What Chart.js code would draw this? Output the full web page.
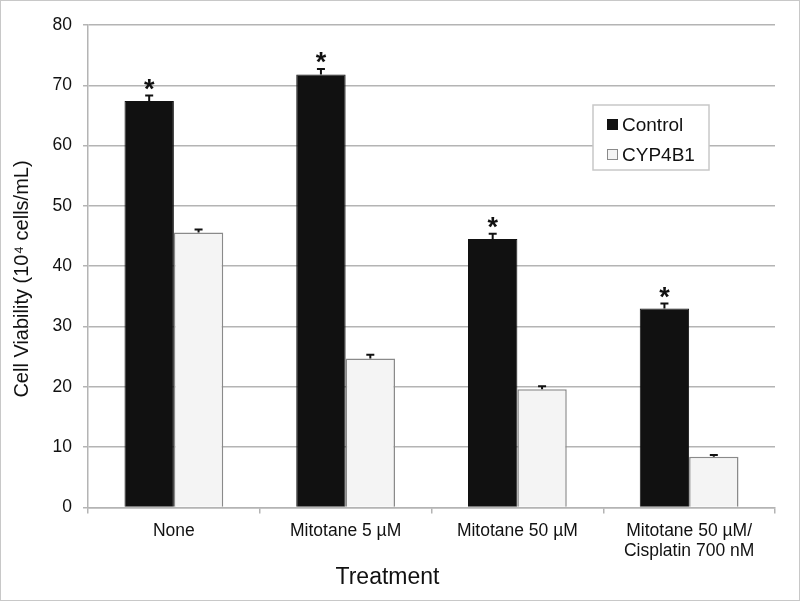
<!DOCTYPE html>
<html>
<head>
<meta charset="utf-8">
<script src="https://cdn.jsdelivr.net/npm/chart.js@4"></script>
<style>
  html, body { margin: 0; padding: 0; background: #fff; }
  #wrap { width: 800px; height: 601px; position: relative; }
  canvas { outline: 1px solid #c8c8c8; outline-offset: -1px; }
</style>
</head>
<body>
<div id="wrap"><canvas id="chart" width="800" height="601"></canvas></div>
<script>
var categories = ["None", "Mitotane 5 \u00b5M", "Mitotane 50 \u00b5M", ["Mitotane 50 \u00b5M/", "Cisplatin 700 nM"]];
var seriesNames = ["Control", "CYP4B1"];
var controlValues = [67.4, 71.8, 44.5, 33.0];
var controlErrors = [0.9, 0.9, 0.9, 0.8];
var cypValues = [45.6, 24.7, 19.6, 8.4];
var cypErrors = [0.5, 0.6, 0.5, 0.3];
var significant = [true, true, true, true];
var yTicks = [0, 10, 20, 30, 40, 50, 60, 70, 80];

var fontFamily = "'Liberation Sans', Arial, sans-serif";
var gridColor = "#b4b4b4";

// error bars + asterisks, placed with the chart's own scales
var errorBars = {
    id: 'errorBars',
    afterDatasetsDraw: function (chart) {
        var ctx = chart.ctx;
        var yScale = chart.scales.y;
        chart.data.datasets.forEach(function (ds, di) {
            var meta = chart.getDatasetMeta(di);
            meta.data.forEach(function (bar, i) {
                var top = yScale.getPixelForValue(ds.data[i] + ds.errors[i]);
                ctx.save();
                ctx.strokeStyle = "#111";
                ctx.lineWidth = 2;
                ctx.beginPath();
                ctx.moveTo(bar.x, bar.y);
                ctx.lineTo(bar.x, top);
                ctx.moveTo(bar.x - 4, top);
                ctx.lineTo(bar.x + 4, top);
                ctx.stroke();
                if (ds.stars && ds.stars[i]) {
                    ctx.fillStyle = "#111";
                    ctx.font = "bold 27px " + fontFamily;
                    ctx.textAlign = "center";
                    ctx.textBaseline = "alphabetic";
                    ctx.fillText("*", bar.x, top + 2);
                }
                ctx.restore();
            });
        });
    }
};

// boxed legend inside the plot + rotated y title
var boxLegend = {
    id: 'boxLegend',
    afterDraw: function (chart) {
        var ctx = chart.ctx;
        var x = 593, y = 105, w = 116, h = 65;
        ctx.save();
        ctx.fillStyle = "#fff";
        ctx.fillRect(x, y, w, h);
        ctx.strokeStyle = "#c8c8c8";
        ctx.lineWidth = 1.5;
        ctx.strokeRect(x, y, w, h);
        ctx.font = "19px " + fontFamily;
        ctx.textBaseline = "middle";
        ctx.textAlign = "left";
        chart.data.datasets.forEach(function (ds, i) {
            var cy = y + 20 + i * 30;
            ctx.fillStyle = ds.backgroundColor;
            ctx.fillRect(x + 14, cy - 6, 11, 11);
            ctx.strokeStyle = ds.borderColor;
            ctx.lineWidth = 1;
            ctx.strokeRect(x + 14.5, cy - 5.5, 10, 10);
            ctx.fillStyle = "#111";
            ctx.fillText(ds.label, x + 29, cy + 1);
        });

        ctx.translate(22, 279);
        ctx.rotate(-Math.PI / 2);
        ctx.textAlign = "center";
        ctx.font = "20px " + fontFamily;
        ctx.fillText("Cell Viability (10\u2074 cells/mL)", 0, 0);
        ctx.restore();
    }
};

new Chart(document.getElementById("chart"), {
    type: 'bar',
    data: {
        labels: categories,
        datasets: [{
            label: seriesNames[0],
            data: controlValues,
            errors: controlErrors,
            stars: significant,
            backgroundColor: "#111111",
            borderColor: "#111111",
            borderWidth: 1
        }, {
            label: seriesNames[1],
            data: cypValues,
            errors: cypErrors,
            backgroundColor: "#f4f4f4",
            borderColor: "#8a8a8a",
            borderWidth: 1.5
        }]
    },
    options: {
        responsive: false,
        animation: false,
        categoryPercentage: 0.575,
        barPercentage: 1,
        layout: { padding: { left: 0, right: 25, top: 25, bottom: 0 } },
        plugins: {
            legend: { display: false },
            tooltip: { enabled: false },
            title: {
                display: true,
                position: 'bottom',
                text: "Treatment",
                color: "#111",
                font: { family: fontFamily, size: 23, weight: 'normal' },
                padding: { top: 0, bottom: 10 }
            }
        },
        scales: {
            x: {
                grid: { offset: true, drawOnChartArea: false, color: gridColor, lineWidth: 1.5, tickLength: 6 },
                border: { color: gridColor, width: 1.5 },
                ticks: {
                    color: "#111",
                    padding: 8,
                    font: { family: fontFamily, size: 17.5, lineHeight: 1.15 },
                    maxRotation: 0
                },
                afterFit: function (scale) { scale.height = 56; }
            },
            y: {
                min: 0,
                max: 80,
                afterBuildTicks: function (scale) {
                    scale.ticks = yTicks.map(function (v) { return { value: v }; });
                },
                grid: { color: gridColor, lineWidth: 1.5, tickLength: 5 },
                border: { color: gridColor, width: 1.5 },
                ticks: {
                    color: "#111",
                    padding: 11,
                    font: { family: fontFamily, size: 17.5 }
                },
                afterFit: function (scale) { scale.width = 88; }
            }
        }
    },
    plugins: [errorBars, boxLegend]
});
</script>
</body>
</html>
